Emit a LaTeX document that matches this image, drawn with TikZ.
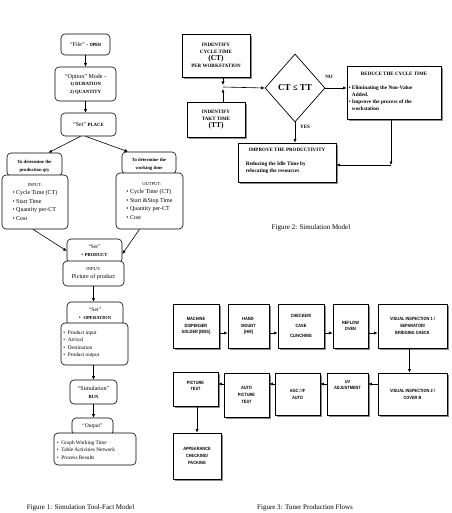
\documentclass[tikz,border=0pt]{standalone}
\usepackage{fontspec}
\setmainfont{Liberation Serif}
\newfontfamily\fsans[FakeStretch=0.85]{Liberation Sans}
\usetikzlibrary{arrows.meta,shapes.geometric,shadows,calc}
\begin{document}
\begin{tikzpicture}[x=1pt,y=-1pt,
  every node/.style={inner sep=0pt, font=\fontsize{6}{7}\selectfont},
  wh/.style 2 args={minimum width=#1pt, minimum height=#2pt},
  rbox/.style={draw, rounded corners=4pt, line width=0.6pt, fill=white, align=center},
  arr/.style={-{Latex[length=3.5pt,width=3.2pt]}, line width=0.6pt},
  sbox/.style={draw, line width=0.8pt, fill=white, align=center,
    drop shadow={shadow xshift=1.8pt, shadow yshift=-1.8pt, fill=black!45, opacity=1}},
  f3/.style={font=\fsans\bfseries\fontsize{4.6}{6.8}\selectfont},
  f2/.style={font=\bfseries\fontsize{5}{7}\selectfont},
  figcap/.style={font=\fontsize{7}{8}\selectfont},
]
\useasboundingbox (0,0) rectangle (451,513);

% ---------------- Figure 1 ----------------
\node[rbox, wh={49}{21}] (file) at (85.5,44.5) {“File” - {\fsans\bfseries\fontsize{4.6}{5}\selectfont OPEN}};
\node[rbox, wh={61}{34}, font=\fontsize{6}{7.5}\selectfont] (option) at (85.5,84) {“Option” Mode -\\{\bfseries\fontsize{4.8}{7.5}\selectfont 1)\ DURATION}\\{\bfseries\fontsize{4.8}{7.5}\selectfont 2)\ QUANTITY}};
\node[rbox, wh={55}{23}] (place) at (88.5,124.5) {“Set” {\bfseries\fontsize{4.8}{6}\selectfont PLACE}};

\node[rbox, wh={55}{23}] (prodhead) at (34.5,164.5) {};
\node[align=center, font=\bfseries\fontsize{4.7}{8}\selectfont] (prodheadtext) at ([yshift=-1.5pt]prodhead.center) {To determine the\\production qty};
\node[rbox, wh={66}{54}, align=left, font=\fontsize{6}{8.5}\selectfont] (prodbody) at (35,202)
  {\hspace*{15pt}{\fontsize{4.5}{5}\selectfont INPUT:}\\\textbullet\ Cycle Time (CT)\\\textbullet\ Start Time\\\textbullet\ Quantity per-CT\\\textbullet\ Cost};

\node[rbox, wh={54}{22}] (workhead) at (149,163) {};
\node[align=center, font=\bfseries\fontsize{4.7}{8}\selectfont] (workheadtext) at ([yshift=-1pt]workhead.center) {To determine the\\working time};
\node[rbox, wh={67}{56}, align=left, font=\fontsize{6}{8.5}\selectfont] (workbody) at (149.5,201)
  {\hspace*{16pt}{\fontsize{4.5}{5}\selectfont OUTPUT:}\\\textbullet\ Cycle Time (CT)\\\textbullet\ Start \&Stop Time\\\textbullet\ Quantity per-CT\\\textbullet\ Cost};

\node[rbox, wh={55}{24}, font=\fontsize{5.5}{8}\selectfont] (producthead) at (94.5,251) {“Set”\\\textbullet\ {\bfseries\fontsize{4.6}{5}\selectfont PRODUCT}};
\node[rbox, wh={61}{25}, font=\fontsize{6}{8}\selectfont] (productbody) at (93.5,273.5) {{\fontsize{4.5}{5}\selectfont INPUT:}\\Picture of product};

\node[rbox, wh={56}{24}, font=\fontsize{5.5}{8}\selectfont] (ophead) at (95,314) {“Set”\\\textbullet\ \ {\bfseries\fontsize{4.6}{5}\selectfont OPERATION}};
\node[rbox, wh={67}{42}] (opbody) at (94.5,344) {};
\node[anchor=west, align=left, font=\fontsize{5.3}{7.5}\selectfont] (optext) at ([xshift=2.5pt]opbody.west)
  {\textbullet\ \ Product input\\\textbullet\ \ Arrival\\\textbullet\ \ Destination\\\textbullet\ \ Product output};

\node[rbox, wh={47}{24}, font=\fontsize{6}{8}\selectfont] (run) at (93.5,392) {“Simulation”\\{\bfseries\fontsize{4.6}{5}\selectfont RUN}};

\node[rbox, wh={41}{17}, font=\fontsize{5.5}{7}\selectfont] (outhead) at (92.5,426.5) {“Output”};
\node[rbox, wh={82}{32}] (outbody) at (95,449) {};
\node[anchor=west, align=left, font=\fontsize{5.3}{7.3}\selectfont] (outtext) at ([xshift=3pt,yshift=-1pt]outbody.west)
  {\textbullet\ \ Graph Working Time\\\textbullet\ \ Table Activities Network\\\textbullet\ \ Process Results};

\draw[arr] (file) -- (option);
\draw[arr] (option.south) -- (option.south |- place.north);
\draw[arr] ([xshift=-8pt]place.south) -- ([xshift=14pt]prodhead.north);
\draw[arr] ([xshift=-3pt]place.south) -- ([xshift=-21pt]workhead.north);
\draw[arr] ([xshift=-2pt]prodbody.south) -- (producthead.west);
\draw[arr] ([xshift=-10pt]workbody.south) -- ([yshift=-3pt]producthead.east);
\draw[arr] (productbody.south) -- (productbody.south |- ophead.north);
\draw[arr] (run.north |- opbody.south) -- (run.north);
\draw[arr] (run.south) -- (run.south |- outhead.north);

\node[figcap] (cap1) at (80.5,508) {Figure 1: Simulation Tool-Fact Model};

% ---------------- Figure 2 ----------------
\node[sbox, wh={68}{43}, f2] (ct) at (216,55.5) {INDENTIFY\\CYCLE TIME\\{\fontsize{7.5}{9}\selectfont (CT)}\\PER WORKSTATION};
\node[sbox, wh={58}{35}, f2] (tt) at (216,119.5) {INDENTIFY\\TAKT TIME\\{\fontsize{7.5}{9}\selectfont (TT)}};
\coordinate (j) at (223,87);
\node[draw, diamond, minimum width=60pt, minimum height=68pt, line width=0.7pt, font=\bfseries\fontsize{9}{10}\selectfont] (dia) at (295,88) {CT ≤ TT};
\draw[arr] (ct.south -| j) -- ([yshift=2pt]j);
\draw[arr] (tt.north -| j) -- ([yshift=-2pt]j);
\draw[arr] (j) -- (dia.west);

\node[sbox, wh={94}{53}] (reduce) at (394,92.5) {};
\node[f2] (redtitle) at ([yshift=-8pt]reduce.north) {REDUCE THE CYCLE TIME};
\node[anchor=west, font=\bfseries\fontsize{5.3}{7.2}\selectfont] (redlist) at ([xshift=2pt,yshift=-6pt]reduce.west)
  {\begin{tabular}{@{}l@{\ }l@{}}\textbullet & Eliminating the Non-Value\\ & Added.\\\textbullet & Improve the process of the\\ & workstation\end{tabular}};

\node[sbox, wh={98}{39}] (improve) at (287,162.5) {};
\node[f2] (imptitle) at ([yshift=-7pt]improve.north) {IMPROVE THE PRODUCTIVITY};
\node[anchor=west, align=left, font=\bfseries\fontsize{5.3}{7.2}\selectfont] (imptext) at ([xshift=8pt,yshift=-5pt]improve.west)
  {Reducing the Idle Time by\\relocating the resources};

\draw[arr] (dia.east) -- (reduce.west |- dia.east);
\draw[arr] (dia.south) -- (dia.south |- improve.north);
\coordinate (c) at (391,165);
\draw[arr] (c |- reduce.south) -- (c);
\draw[arr] (c) -- (c -| improve.east);
\node[f2] (no) at (329,77) {NO};
\node[f2] (yes) at (305,127) {YES};

\node[figcap] (cap2) at (311,228) {Figure 2: Simulation Model};

% ---------------- Figure 3 ----------------
\coordinate (r1) at (0,333);
\coordinate (r2) at (0,384);
\node[sbox, f3, wh={46}{44}] (mds) at (196,326) {MACHINE\\DISPENSER\\SOLDER [MDS]};
\node[sbox, f3, wh={41}{44}] (hm) at (248.5,326) {HAND-\\MOUNT\\{}[HM]};
\node[sbox, f3, wh={46}{44}] (checker) at (301,326) {CHECKER/\\[3pt]CASE\\[3pt]CLINCHING};
\node[sbox, f3, wh={35}{44}] (reflow) at (350.5,326) {REFLOW\\OVEN};
\node[sbox, f3, wh={69}{44}] (vi1) at (412.5,326) {VISUAL INSPECTION 1 /\\SEPARATOR/\\BRIDGING CHECK};

\node[sbox, f3, wh={69}{42}] (vi2) at (412.5,394) {VISUAL INSPECTION 2 /\\COVER B};
\node[sbox, f3, wh={41}{42}] (uv) at (347.5,394) {};
\node[f3, align=center] (uvtext) at ([yshift=9pt]uv.center) {UV\\ADJUSTMENT};
\node[sbox, f3, wh={45}{42}] (agc) at (297.5,394) {AGC / IF\\AUTO};
\node[sbox, f3, wh={45}{44}] (apt) at (246.5,395) {AUTO\\PICTURE\\TEST};
\node[sbox, f3, wh={45}{34}] (pt) at (195.5,389) {};
\node[f3, align=center] (pttext) at ([yshift=3pt]pt.center) {PICTURE\\TEST};
\node[sbox, f3, wh={48}{46}] (app) at (197,456) {APPEARANCE\\CHECKING/\\PACKING};

\draw[arr] (mds.east |- r1) -- (hm.west |- r1);
\draw[arr] (hm.east |- r1) -- (checker.west |- r1);
\draw[arr] (checker.east |- r1) -- (reflow.west |- r1);
\draw[arr] (reflow.east |- r1) -- (vi1.west |- r1);
\draw[arr] ([xshift=-3pt]vi1.south) -- ([xshift=-3pt]vi2.north);
\draw[arr] (vi2.west |- r2) -- (uv.east |- r2);
\draw[arr] (uv.west |- r2) -- (agc.east |- r2);
\draw[arr] (agc.west |- r2) -- (apt.east |- r2);
\draw[arr] (apt.west |- r2) -- (pt.east |- r2);
\draw[arr] (app.north |- pt.south) -- (app.north);

\node[figcap] (cap3) at (305,508) {Figure 3: Tuner Production Flows};
\end{tikzpicture}
\end{document}
